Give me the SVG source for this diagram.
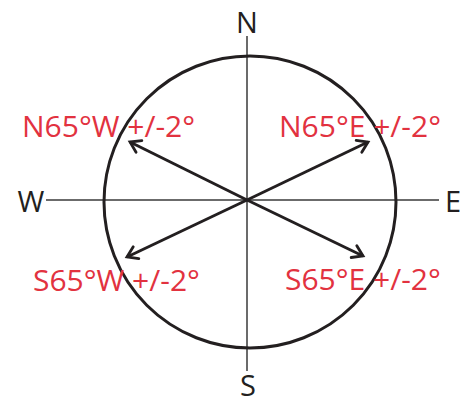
<svg xmlns="http://www.w3.org/2000/svg" width="467" height="403" viewBox="0 0 467 403">
<style>
.lbl{font-family:"Open Sans","Liberation Sans",sans-serif;font-size:30px;fill:#e2323f}
.dir{font-family:"Open Sans","Liberation Sans",sans-serif;font-size:29px;fill:#231f20}
.axis{stroke:#3a3a3a;stroke-width:1.5;fill:none}
.arr{stroke:#231f20;stroke-width:3;fill:none;marker-end:url(#ah)}
</style>
<defs>
<marker id="ah" markerUnits="userSpaceOnUse" markerWidth="20" markerHeight="20" refX="0" refY="0" viewBox="-14 -10 16 20" orient="auto">
<path d="M-10,-6.5 L0,0 L-10,6.5" stroke="#231f20" stroke-width="2.8" fill="none" stroke-linecap="round" stroke-linejoin="miter"/>
</marker>
</defs>
<rect width="467" height="403" fill="#ffffff"/>
<g id="connectors">
<line class="axis" x1="247" y1="36" x2="247" y2="371"/>
<line class="axis" x1="46" y1="200" x2="439" y2="200"/>
<line class="arr" x1="247" y1="200" x2="130" y2="142"/>
<line class="arr" x1="247" y1="200" x2="368" y2="142"/>
<line class="arr" x1="247" y1="200" x2="127" y2="257"/>
<line class="arr" x1="247" y1="200" x2="363" y2="256"/>
</g>
<g id="circle"><circle cx="250" cy="202" r="146" fill="none" stroke="#231f20" stroke-width="3"/></g>
<g id="n"><text class="dir" x="247" y="33" text-anchor="middle">N</text></g>
<g id="s"><text class="dir" x="248" y="396" text-anchor="middle">S</text></g>
<g id="w"><text class="dir" x="31" y="212" text-anchor="middle">W</text></g>
<g id="e"><text class="dir" x="453" y="212" text-anchor="middle">E</text></g>
<g id="nw"><text class="lbl" x="22" y="137">N65°W +/-2°</text></g>
<g id="ne"><text class="lbl" x="279" y="137">N65°E +/-2°</text></g>
<g id="sw"><text class="lbl" x="33" y="291">S65°W +/-2°</text></g>
<g id="se"><text class="lbl" x="285" y="290">S65°E +/-2°</text></g>
</svg>
